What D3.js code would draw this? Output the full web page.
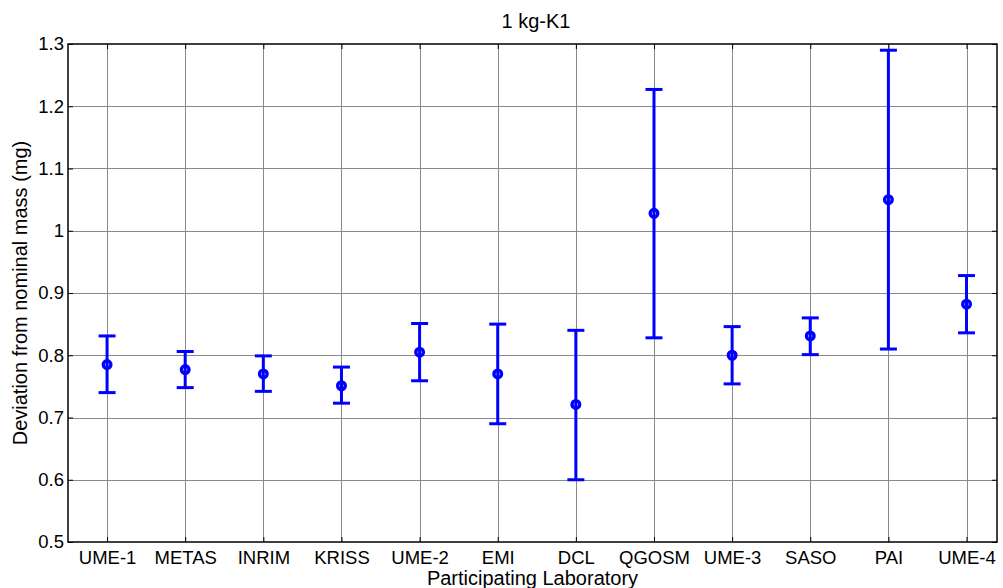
<!DOCTYPE html>
<html>
<head>
<meta charset="utf-8">
<script src="https://cdn.jsdelivr.net/npm/d3@7"></script>
<style>
  body { margin: 0; background: #fff; }
  text { font-family: "Liberation Sans", Arial, sans-serif; fill: #000; }
</style>
</head>
<body>
<svg id="chart" width="1003" height="588"></svg>
<script>
// lab labels along the x axis
const labs = ["UME-1", "METAS", "INRIM", "KRISS", "UME-2", "EMI", "DCL", "QGOSM", "UME-3", "SASO", "PAI", "UME-4"];
// deviation from nominal mass (mg) and the error bar ends
const dev   = [0.785, 0.777, 0.770, 0.751, 0.805, 0.770, 0.721, 1.028, 0.800, 0.831, 1.050, 0.882];
const lower = [0.740, 0.748, 0.742, 0.723, 0.759, 0.690, 0.600, 0.828, 0.754, 0.801, 0.810, 0.836];
const upper = [0.831, 0.806, 0.799, 0.781, 0.851, 0.850, 0.840, 1.227, 0.846, 0.860, 1.290, 0.928];
const yTicks = [0.5, 0.6, 0.7, 0.8, 0.9, 1.0, 1.1, 1.2, 1.3];

const pl = 68, pr = 997, pt = 44, pb = 542;
const svg = d3.select("#chart");

const x = d3.scaleLinear().domain([0.5, 12.39]).range([pl, pr]);
const y = d3.scaleLinear().domain([0.5, 1.3]).range([pb, pt]);

const idx = d3.range(1, labs.length + 1);

// grid
const grid = svg.append("g").attr("stroke", "#8a8a8a").attr("stroke-width", 1);
grid.selectAll(".gx").data(idx).join("line")
  .attr("x1", d => Math.round(x(d)) + 0.5).attr("x2", d => Math.round(x(d)) + 0.5)
  .attr("y1", pt).attr("y2", pb);
grid.selectAll(".gy").data(yTicks.slice(1, -1)).join("line")
  .attr("x1", pl).attr("x2", pr)
  .attr("y1", d => Math.round(y(d)) + 0.5).attr("y2", d => Math.round(y(d)) + 0.5);

// axes with inward ticks
const fmt = d => d === 1 ? "1" : d3.format(".1f")(d);
svg.append("g").attr("transform", `translate(0,${pb})`)
  .call(d3.axisBottom(x).tickValues(idx).tickSize(-5).tickPadding(9).tickFormat((d, i) => labs[i]))
  .call(g => g.select(".domain").remove())
  .call(g => g.selectAll("text").style("font-size", "18.5px"));
svg.append("g").attr("transform", `translate(0,${pt})`)
  .call(d3.axisTop(x).tickValues(idx).tickSize(-5).tickFormat(""))
  .call(g => g.select(".domain").remove());
svg.append("g").attr("transform", `translate(${pl},0)`)
  .call(d3.axisLeft(y).tickValues(yTicks).tickSize(-5).tickPadding(4).tickFormat(fmt))
  .call(g => g.select(".domain").remove())
  .call(g => g.selectAll("text").style("font-size", "18.5px"));
svg.append("g").attr("transform", `translate(${pr},0)`)
  .call(d3.axisRight(y).tickValues(yTicks).tickSize(-5).tickFormat(""))
  .call(g => g.select(".domain").remove());

svg.append("rect")
  .attr("x", pl).attr("y", pt).attr("width", pr - pl).attr("height", pb - pt)
  .attr("fill", "none").attr("stroke", "#000").attr("stroke-width", 1.5);

// error bars
const bars = svg.append("g").attr("stroke", "#0000ff").attr("stroke-width", 3).attr("fill", "none");
bars.selectAll(".v").data(idx).join("line")
  .attr("x1", d => x(d)).attr("x2", d => x(d))
  .attr("y1", (d, i) => y(lower[i])).attr("y2", (d, i) => y(upper[i]));
bars.selectAll(".lo").data(idx).join("line")
  .attr("x1", d => x(d) - 8.5).attr("x2", d => x(d) + 8.5)
  .attr("y1", (d, i) => y(lower[i])).attr("y2", (d, i) => y(lower[i]));
bars.selectAll(".hi").data(idx).join("line")
  .attr("x1", d => x(d) - 8.5).attr("x2", d => x(d) + 8.5)
  .attr("y1", (d, i) => y(upper[i])).attr("y2", (d, i) => y(upper[i]));
bars.selectAll("circle").data(idx).join("circle")
  .attr("cx", d => x(d)).attr("cy", (d, i) => y(dev[i]))
  .attr("r", 3.8).attr("stroke-width", 3.4).attr("fill", "none");

// labels
svg.append("text").attr("x", 536).attr("y", 28)
  .attr("text-anchor", "middle").style("font-size", "20px").text("1 kg-K1");
svg.append("text").attr("x", (pl + pr) / 2).attr("y", 585)
  .attr("text-anchor", "middle").style("font-size", "20px").text("Participating Laboratory");
svg.append("text").attr("transform", `translate(27,${(pt + pb) / 2}) rotate(-90)`)
  .attr("text-anchor", "middle").style("font-size", "20px").text("Deviation from nominal mass (mg)");
</script>
</body>
</html>
